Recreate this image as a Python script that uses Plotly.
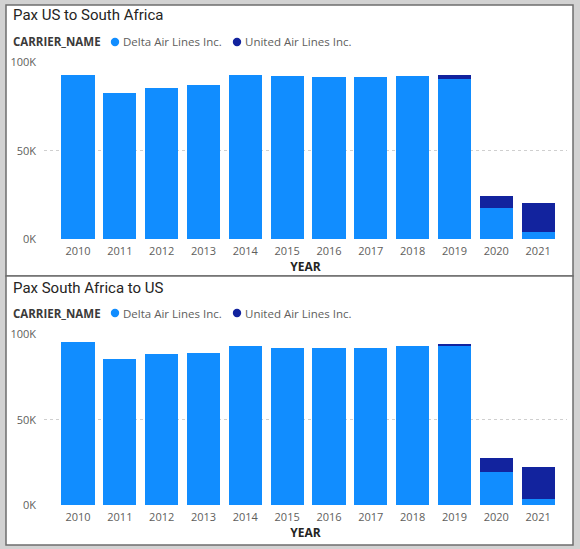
import plotly.graph_objects as go

# ---------------- data ----------------
years = ["2010", "2011", "2012", "2013", "2014", "2015", "2016", "2017", "2018", "2019", "2020", "2021"]
carriers = ["Delta Air Lines Inc.", "United Air Lines Inc."]

us_to_sa_delta = [92900, 83000, 85500, 87200, 92800, 92200, 91800, 91800, 92400, 90800, 17900, 4300]
us_to_sa_united = [0, 0, 0, 0, 0, 0, 0, 0, 0, 2000, 6800, 16200]

sa_to_us_delta = [95300, 85600, 88500, 88700, 92800, 92000, 91600, 92000, 93200, 93200, 19300, 3700]
sa_to_us_united = [0, 0, 0, 0, 0, 0, 0, 0, 0, 1100, 8300, 18700]

panel_titles = ["Pax US to South Africa", "Pax South Africa to US"]
legend_title = "CARRIER_NAME"
x_title = "YEAR"
y_tickvals = [0, 50000, 100000]
y_ticktext = ["0K", "50K", "100K"]

# ---------------- style ----------------
W, H = 580, 549
colors = ["#118DFF", "#12239E"]
FONT = "Open Sans"
TITLE_FONT = "Roboto"
TICK_COLOR = "#605E5C"
DARK = "#252423"


def px_x(p):
    return p / W


def px_y(p):
    return 1 - p / H


fig = go.Figure()

series = [
    (us_to_sa_delta, us_to_sa_united, "x", "y"),
    (sa_to_us_delta, sa_to_us_united, "x2", "y2"),
]
for delta, united, xa, ya in series:
    for name, vals, col in zip(carriers, [delta, united], colors):
        fig.add_trace(go.Bar(
            x=years, y=vals, name=name, marker=dict(color=col, line=dict(width=0)),
            xaxis=xa, yaxis=ya, showlegend=False,
        ))

# panel geometry (pixels)
panels = [
    dict(top=5, bottom=276, y100=62.5, y0=239.3, title_y=15.5, legend_y=42),
    dict(top=276, bottom=545, y100=334.0, y0=505.3, title_y=287.5, legend_y=313),
]
x_left, x_right = 44, 567

axis_common_x = dict(
    type="category", categoryorder="array", categoryarray=years,
    range=[-0.813, 11.69], showgrid=False, zeroline=False, showline=False,
    tickfont=dict(family=FONT, size=11, color=TICK_COLOR), ticks="",
    ticklabelstandoff=4, automargin=False,
    title=dict(text=f"<b>{x_title}</b>", font=dict(family=FONT, size=12, color=DARK), standoff=4),
)
axis_common_y = dict(
    range=[0, 100000], tickvals=y_tickvals, ticktext=y_ticktext,
    showgrid=True, gridcolor="#CFCFCF", griddash="dot", gridwidth=1,
    zeroline=False, showline=False, ticks="", automargin=False,
    tickfont=dict(family=FONT, size=11, color=TICK_COLOR), ticklabelstandoff=7,
)

layout_axes = {}
for i, p in enumerate(panels):
    sx = "" if i == 0 else str(i + 1)
    layout_axes["xaxis" + sx] = dict(axis_common_x, domain=[px_x(x_left), px_x(x_right)], anchor="y" + sx)
    layout_axes["yaxis" + sx] = dict(axis_common_y, domain=[px_y(p["y0"]), px_y(p["y100"])], anchor="x" + sx)

shapes = []
annotations = []
for i, p in enumerate(panels):
    shapes.append(dict(type="rect", xref="paper", yref="paper",
                       x0=px_x(6), x1=px_x(573), y0=px_y(p["bottom"]), y1=px_y(p["top"]),
                       fillcolor="white", line=dict(color="#6E6E6E", width=1.5), layer="below"))
    annotations.append(dict(text=panel_titles[i], xref="paper", yref="paper",
                            x=px_x(10.5), y=px_y(p["title_y"]), xanchor="left", yanchor="middle",
                            showarrow=False, font=dict(family=TITLE_FONT, size=15, color=DARK)))
    ly = p["legend_y"]
    annotations.append(dict(text=f"<b>{legend_title}</b>", xref="paper", yref="paper",
                            x=px_x(11), y=px_y(ly), xanchor="left", yanchor="middle",
                            showarrow=False, font=dict(family=FONT, size=11.5, color="#3B3A39")))
    for dot_x, name, col in zip([115, 237], carriers, colors):
        r = 4.2
        shapes.append(dict(type="circle", xref="paper", yref="paper",
                           x0=px_x(dot_x - r), x1=px_x(dot_x + r),
                           y0=px_y(ly + r), y1=px_y(ly - r),
                           fillcolor=col, line=dict(width=0)))
        annotations.append(dict(text=name, xref="paper", yref="paper",
                                x=px_x(dot_x + 6), y=px_y(ly), xanchor="left", yanchor="middle",
                                showarrow=False, font=dict(family=FONT, size=11.5, color=TICK_COLOR)))

fig.update_layout(
    width=W, height=H, margin=dict(l=0, r=0, t=0, b=0, pad=0, autoexpand=False),
    paper_bgcolor="#D2D2D2", plot_bgcolor="rgba(0,0,0,0)",
    barmode="stack", bargap=0.21,
    shapes=shapes, annotations=annotations,
    **layout_axes,
)

fig.write_html("out.html", config={"displayModeBar": False},
               post_script="document.body.style.margin='0';")
